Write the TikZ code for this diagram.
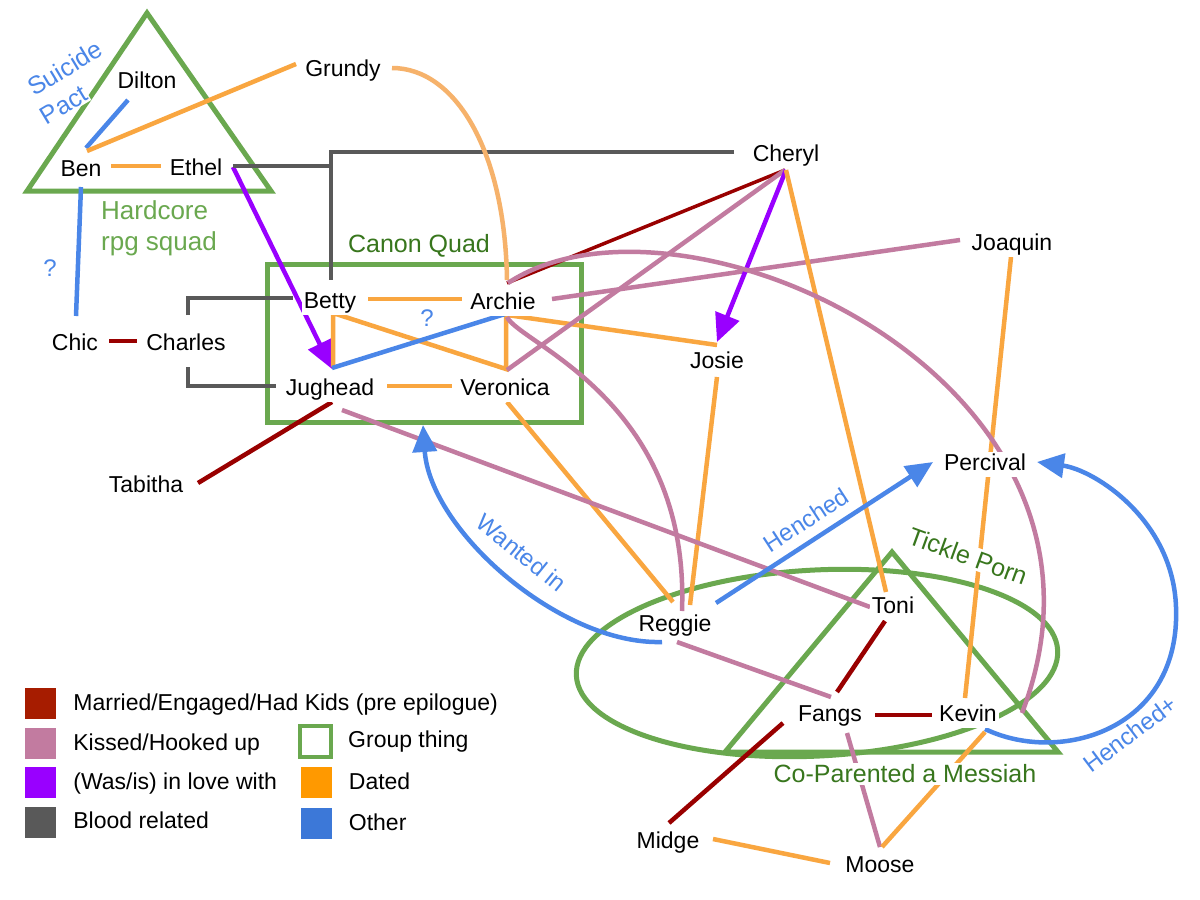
\documentclass[tikz,border=0pt]{standalone}
\usepackage{fontspec}
\setmainfont{Liberation Sans}
\usepackage{tikz}
\usetikzlibrary{arrows.meta,positioning,calc,backgrounds}
\usepackage{xcolor}
\definecolor{MarriedRed}{RGB}{153,0,0}
\definecolor{KeyRed}{RGB}{166,28,0}
\definecolor{KissPink}{RGB}{194,123,160}
\definecolor{LovePurple}{RGB}{153,0,255}
\definecolor{BloodGrey}{RGB}{89,89,89}
\definecolor{DateOrange}{RGB}{249,166,64}
\definecolor{DateLight}{RGB}{246,178,107}
\definecolor{KeyOrange}{RGB}{255,153,0}
\definecolor{OtherBlue}{RGB}{74,134,232}
\definecolor{KeyBlue}{RGB}{60,120,216}
\definecolor{GroupGreen}{RGB}{106,168,79}
\definecolor{LabelGreen}{RGB}{56,118,29}

\begin{document}
\begin{tikzpicture}[x=1pt,y=-1pt,
  person/.style={font=\fontsize{23}{27}\selectfont,fill=white,inner sep=2pt,
                 text height=17pt,text depth=4pt},
  grouplabel/.style={font=\fontsize{25}{30}\selectfont,text=LabelGreen,inner sep=2pt},
  otherlabel/.style={font=\fontsize{24}{28}\selectfont,text=OtherBlue,inner sep=1pt},
  keybox/.style={minimum size=31pt,inner sep=0pt},
  keytext/.style={font=\fontsize{23}{27}\selectfont,inner sep=0pt,
                  text height=17pt,text depth=4pt},
  datedline/.style={draw=DateOrange,line width=4.5pt},
  kissline/.style={draw=KissPink,line width=4.5pt},
  marriedline/.style={draw=MarriedRed,line width=4.5pt},
  loveline/.style={draw=LovePurple,line width=4.5pt,-{Triangle[length=28pt,width=25pt]}},
  bloodline/.style={draw=BloodGrey,line width=4.5pt},
  otherline/.style={draw=OtherBlue,line width=4.5pt},
  henchline/.style={otherline,-{Triangle[length=27pt,width=24pt]}},
  groupline/.style={draw=GroupGreen,line width=5pt},
]
\useasboundingbox (0,0) rectangle (1200,900);

\node[person] (dilton) at (147,82) {Dilton};
\node[person] (grundy) at (343,70) {Grundy};
\node[person] (ben) at (81,170) {Ben};
\node[person] (ethel) at (196,169) {Ethel};
\node[person] (cheryl) at (786,155) {Cheryl};
\node[person] (joaquin) at (1012,244) {Joaquin};
\node[person] (betty) at (330,302) {Betty};
\node[person] (archie) at (503,303) {Archie};
\node[person] (chic) at (75,344) {Chic};
\node[person] (charles) at (186,344) {Charles};
\node[person] (jughead) at (330,389) {Jughead};
\node[person] (veronica) at (505,389) {Veronica};
\node[person] (josie) at (717,362) {Josie};
\node[person] (tabitha) at (146,486) {Tabitha};
\node[person] (percival) at (985,464) {Percival};
\node[person] (reggie) at (675,625) {Reggie};
\node[person] (toni) at (893,607) {Toni};
\node[person] (fangs) at (830,715) {Fangs};
\node[person] (kevin) at (968,715) {Kevin};
\node[person] (midge) at (668,842) {Midge};
\node[person] (moose) at (880,866) {Moose};
\coordinate (loopturn) at (1176,607);

\node[otherlabel,font=\fontsize{25}{30}\selectfont,fill=white,rotate=31] (suicide) at (65,68) {Suicide};
\node[otherlabel,font=\fontsize{25}{30}\selectfont,fill=white,rotate=31] (pact) at (64,105) {Pact};
\node[grouplabel,text=GroupGreen,font=\fontsize{26}{31}\selectfont,align=left,anchor=west,inner sep=0pt]
  (hardcore) at (101,228) {Hardcore\\rpg squad};
\node[grouplabel] (canon) at (419,246) {Canon Quad};
\node[grouplabel,fill=white,rotate=-20] (tickle) at (968,556) {Tickle Porn};
\node[grouplabel,fill=white] (messiah) at (905,774) {Co-Parented a Messiah};
\node[otherlabel,rotate=-39] (wanted) at (522,553) {Wanted in};
\node[otherlabel,rotate=33] (henched) at (806,520) {Henched};
\node[otherlabel,rotate=37] (henchedplus) at (1130,734) {Henched+};

\begin{scope}[on background layer]
\fill[white] (0,0) rectangle (1200,900);
\draw[groupline] (147,13) -- (27,191) -- (271,191) -- cycle;
\draw[groupline] (267,264) rectangle (581,422);
\draw[groupline,rotate around={3:(817,663)}] (817,663) ellipse [x radius=241,y radius=93];
\draw[groupline] (892,552) -- (725,752) -- (1058,752) -- cycle;

\draw[otherline] ($(dilton)+(-19,18)$) -- ($(ben)+(5,-22)$);
\draw[datedline] ($(ben)+(6,-19)$) -- ($(grundy)+(-47,-6)$);
\draw[datedline] ($(ben)+(30,-4)$) -- ($(ethel)+(-35,-3)$);
\draw[otherline] ($(ben)+(0,17)$) -- ($(chic)+(1,-28)$)
  node[pos=0.63,left=18pt,otherlabel]{?};
\draw[loveline] ($(ethel)+(37,-2)$) -- ($(jughead)+(2,-20)$);
\draw[bloodline] ($(ethel)+(37,-3)$) -- ($(betty |- ethel)+(1,-3)$);
\draw[bloodline] ($(cheryl)+(-52,-3)$) -| ($(betty)+(1,-22)$);
\draw[bloodline] ($(charles)+(2,-29)$) |- ($(betty)+(-37,-4)$);
\draw[bloodline] ($(charles)+(2,23)$) |- ($(jughead)+(-54,-3)$);
\draw[marriedline] ($(chic)+(34,-3)$) -- ($(charles)+(-49,-3)$);

\draw[datedline] ($(betty)+(38,-3)$) -- ($(archie)+(-41,-4)$);
\draw[datedline] ($(jughead)+(57,-3)$) -- ($(veronica)+(-53,-3)$);
\draw[datedline] ($(jughead)+(3,-22)$) -- ($(betty)+(3,11)$)
  -- ($(veronica)+(1,-20)$) -- ($(archie)+(3,11)$);
\draw[otherline] ($(jughead)+(2,-21)$) -- ($(archie)+(2,11)$)
  node[pos=0.55,above=9pt,otherlabel]{?};
\draw[datedline] ($(archie)+(4,12)$) -- ($(josie)+(0,-17)$);
\draw[datedline,draw=DateLight] ($(grundy)+(49,-2)$) .. controls +(63,0) and +(-2,-130) .. ($(archie)+(4,-23)$);
\draw[marriedline,line width=3.5pt] ($(cheryl)+(-1,15)$) -- ($(archie)+(4,-20)$);
\draw[kissline] ($(archie)+(49,-4)$) -- ($(joaquin)+(-52,-4)$);
\draw[kissline] ($(cheryl)+(-1,15)$) -- ($(veronica)+(2,-19)$);
\draw[loveline] ($(cheryl)+(0,15)$) -- ($(josie)+(0,-20)$);
\draw[datedline] ($(cheryl)+(0,15)$) -- ($(toni)+(-7,-15)$);
\draw[datedline] ($(joaquin)+(-1,13)$) -- ($(kevin)+(-3,-17)$);
\draw[datedline] ($(josie)+(0,15)$) -- ($(reggie)+(15,-20)$);
\draw[datedline] ($(veronica)+(2,13)$) -- ($(reggie)+(-2,-23)$);
\draw[kissline] ($(archie)+(4,14)$) .. controls +(13,27) and +(8,-211) .. ($(reggie)+(7,-14)$);
\draw[kissline] ($(archie)+(5,-20)$) .. controls +(172,-114) and +(128,-333) .. ($(kevin)+(54,-2)$);
\draw[kissline] ($(jughead)+(12,21)$) -- ($(toni)+(-23,0)$);
\draw[marriedline] ($(jughead)+(2,13)$) -- ($(tabitha)+(52,-3)$);

\draw[kissline] ($(reggie)+(2,17)$) -- ($(fangs)+(1,-18)$);
\draw[henchline] ($(reggie)+(-13,17)$) .. controls +(-102,3) and +(7,105) .. ($(jughead)+(93,36)$);
\draw[henchline] ($(reggie)+(41,-22)$) -- ($(percival)+(-52,-2)$);
\draw[henchline] ($(kevin)+(17,14)$) .. controls +(75,36) and +(5,123) .. (loopturn)
  .. controls +(-3,-87) and +(58,8) .. ($(percival)+(52,-2)$);
\draw[marriedline] ($(toni)+(-8,14)$) -- ($(fangs)+(7,-23)$);
\draw[marriedline] ($(fangs)+(45,0)$) -- ($(kevin)+(-36,0)$);
\draw[marriedline] ($(fangs)+(-47,8)$) -- ($(midge)+(1,-19)$);
\draw[kissline] ($(fangs)+(17,18)$) -- ($(moose)+(0,-19)$);
\draw[datedline] ($(kevin)+(17,17)$) -- ($(moose)+(2,-19)$);
\draw[datedline] ($(midge)+(45,-3)$) -- ($(moose)+(-50,-3)$);
\end{scope}

\node[keybox,fill=KeyRed] (keymarried) at (40.5,703.5) {};
\node[keybox,fill=KissPink] (keykissed) at (40.5,743.5) {};
\node[keybox,fill=LovePurple] (keylove) at (40.5,782.5) {};
\node[keybox,fill=BloodGrey] (keyblood) at (40.5,822) {};
\node[keybox,draw=GroupGreen,line width=4pt,minimum size=31pt] (keygroup) at (315.5,741) {};
\node[keybox,fill=KeyOrange] (keydated) at (316,782.5) {};
\node[keybox,fill=KeyBlue] (keyother) at (316,823.5) {};
\node[keytext,right=17pt of keymarried] {Married/Engaged/Had Kids (pre epilogue)};
\node[keytext,right=17pt of keykissed] {Kissed/Hooked up};
\node[keytext,right=17pt of keylove] {(Was/is) in love with};
\node[keytext,right=17pt of keyblood] {Blood related};
\node[keytext,right=15pt of keygroup] {Group thing};
\node[keytext,right=17pt of keydated] {Dated};
\node[keytext,right=17pt of keyother] {Other};
\end{tikzpicture}
\end{document}
